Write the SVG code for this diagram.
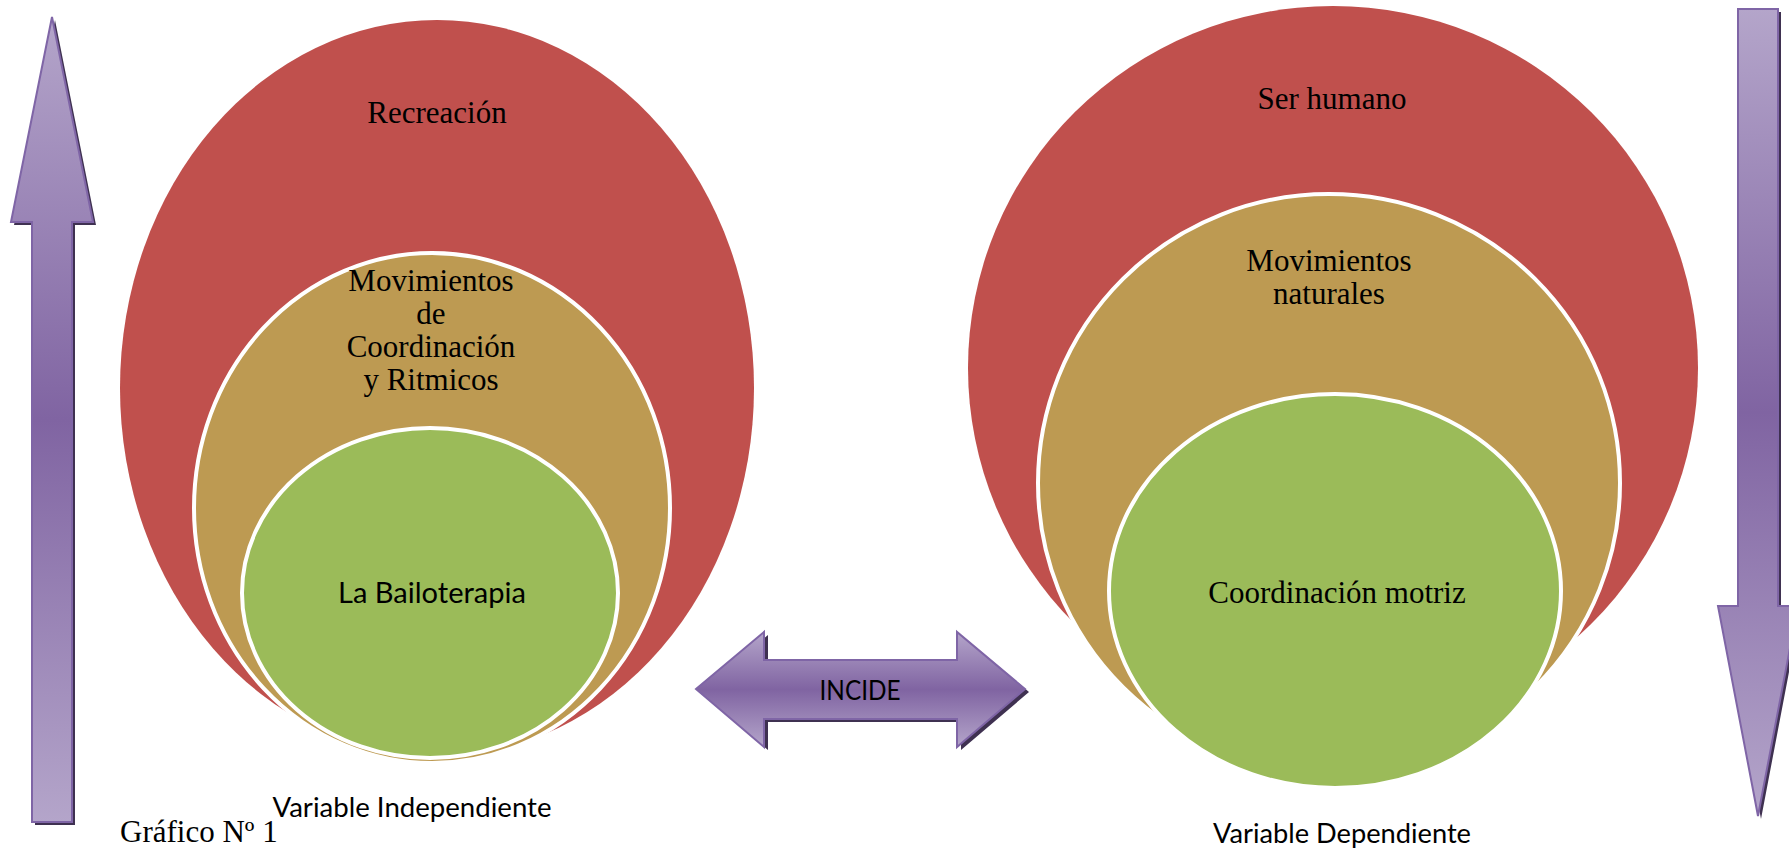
<svg xmlns="http://www.w3.org/2000/svg" width="1789" height="852" viewBox="0 0 1789 852">
<defs>
<linearGradient id="gV" x1="0" y1="0" x2="0" y2="1">
<stop offset="0" stop-color="#b4a5ca"/>
<stop offset="0.5" stop-color="#8064a2"/>
<stop offset="1" stop-color="#b4a5ca"/>
</linearGradient>
<style>
.red{fill:#c0504d}
.tan{fill:#bd9a52;stroke:#ffffff;stroke-width:4}
.grn{fill:#9bbb59;stroke:#ffffff;stroke-width:4}
.arr{fill:url(#gV);stroke:#7f65a6;stroke-width:2;stroke-linejoin:miter}
.sh{fill:#3f3151}
.tr{font-family:"Liberation Serif","Times New Roman",serif;font-size:31px;fill:#000;text-anchor:middle}
.sn{font-family:Lato,"Open Sans",sans-serif;fill:#000;text-anchor:middle}
</style>
</defs>

<g id="arrow-up">
<path class="sh" d="M55,20 L96,225 L75,225 L75,825 L35,825 L35,225 L14,225 Z"/>
<path class="arr" d="M52,17 L93,222 L72,222 L72,822 L32,822 L32,222 L11,222 Z"/>
</g>

<g id="arrow-down">
<path class="sh" d="M1741,12 L1781,12 L1781,609 L1801,609 L1761,819 L1721,609 L1741,609 Z"/>
<path class="arr" d="M1738,9 L1778,9 L1778,606 L1798,606 L1758,816 L1718,606 L1738,606 Z"/>
</g>

<g id="left-red">
<ellipse class="red" cx="437" cy="388" rx="317" ry="368"/>
<text class="tr" x="437" y="123">Recreación</text>
</g>
<g id="left-tan">
<ellipse class="tan" cx="432" cy="508" rx="238" ry="255"/>
<text class="tr" x="431" y="291">Movimientos</text>
<text class="tr" x="431" y="324">de</text>
<text class="tr" x="431" y="357">Coordinación</text>
<text class="tr" x="431" y="390">y Ritmicos</text>
</g>
<g id="left-green">
<ellipse class="grn" cx="430" cy="593" rx="188" ry="165"/>
<text class="sn" x="432" y="603" font-size="29" textLength="188" lengthAdjust="spacingAndGlyphs">La Bailoterapia</text>
</g>

<g id="right-red">
<ellipse class="red" cx="1333" cy="368" rx="365" ry="362"/>
<text class="tr" x="1332" y="109">Ser humano</text>
</g>
<g id="right-tan">
<ellipse class="tan" cx="1329" cy="483" rx="291" ry="289"/>
<text class="tr" x="1329" y="271">Movimientos</text>
<text class="tr" x="1329" y="304">naturales</text>
</g>
<g id="right-green">
<ellipse class="grn" cx="1335" cy="591" rx="226" ry="197"/>
<text class="tr" x="1337" y="603">Coordinación motriz</text>
</g>

<g id="connectors">
<g id="incide">
<path class="sh" d="M700,692 L768,635 L768,663 L961,663 L961,635 L1029,692 L961,750 L961,722 L768,722 L768,750 Z"/>
<path class="arr" d="M696,689 L764,632 L764,660 L957,660 L957,632 L1025,689 L957,747 L957,719 L764,719 L764,747 Z"/>
<text class="sn" x="860" y="700" font-size="27" textLength="81" lengthAdjust="spacingAndGlyphs">INCIDE</text>
</g>
</g>

<g id="labels">
<text class="sn" x="412" y="817" font-size="27" textLength="279" lengthAdjust="spacingAndGlyphs">Variable Independiente</text>
<text class="sn" x="1342" y="843" font-size="27" textLength="258" lengthAdjust="spacingAndGlyphs">Variable Dependiente</text>
<text x="120" y="842" font-family="'Liberation Serif','Times New Roman',serif" font-size="31" fill="#000">Gráfico Nº 1</text>
</g>
</svg>
